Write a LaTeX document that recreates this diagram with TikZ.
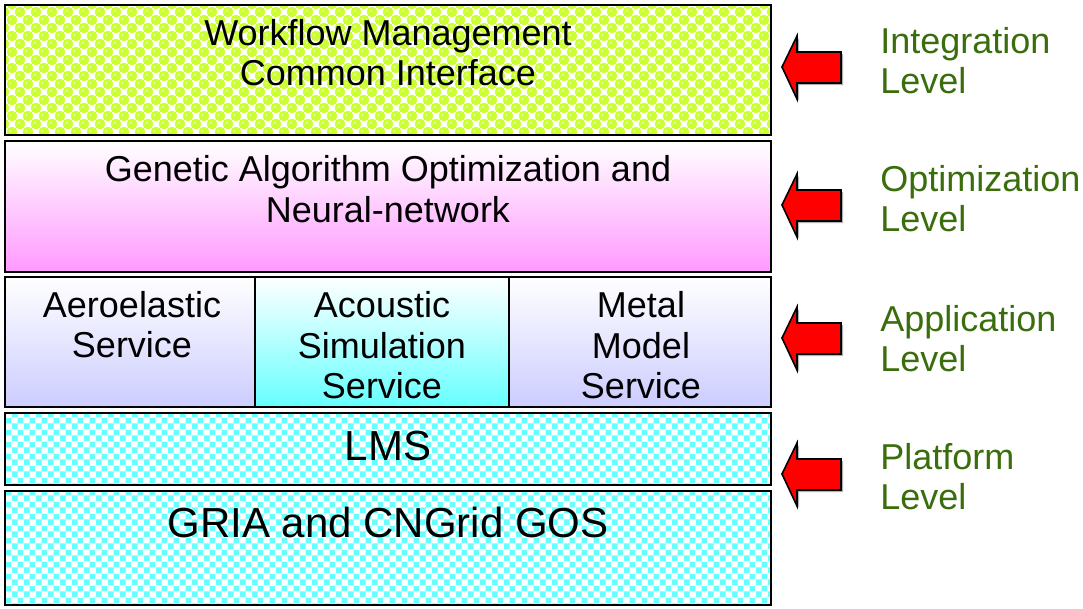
\documentclass[tikz,border=0pt]{standalone}
\usepackage{fontspec}
\setmainfont{Liberation Sans}
\usetikzlibrary{patterns}

\definecolor{bubblegreen}{HTML}{CCFF33}
\definecolor{bubblelight}{HTML}{E4FF8C}
\definecolor{checkcyan}{HTML}{66FFFF}
\definecolor{optmagenta}{HTML}{FF99FF}
\definecolor{applav}{HTML}{CCCCFF}
\definecolor{labelgreen}{HTML}{3A6E0C}
\definecolor{arrowred}{HTML}{FF0000}

% green bubbles on white
\pgfdeclarepatternformonly{bubbles}{\pgfpoint{-1.2pt}{-1.2pt}}{\pgfpoint{13.2pt}{13.2pt}}{\pgfpoint{12pt}{12pt}}{
  \pgfpathcircle{\pgfpoint{3pt}{3pt}}{4pt}
  \pgfpathcircle{\pgfpoint{9pt}{9pt}}{4pt}
  \pgfusepath{fill}}
% small highlights on the bubbles
\pgfdeclarepatternformonly{bubbleshine}{\pgfpointorigin}{\pgfpoint{12pt}{12pt}}{\pgfpoint{12pt}{12pt}}{
  \pgfpathcircle{\pgfpoint{2.2pt}{4.2pt}}{1pt}
  \pgfpathcircle{\pgfpoint{8.2pt}{10.2pt}}{1pt}
  \pgfusepath{fill}}
% cyan checkerboard
\pgfdeclarepatternformonly{cyanchecks}{\pgfpointorigin}{\pgfpoint{9pt}{9pt}}{\pgfpoint{9pt}{9pt}}{
  \pgfpathrectangle{\pgfpointorigin}{\pgfpoint{4.5pt}{4.5pt}}
  \pgfpathrectangle{\pgfpoint{4.5pt}{4.5pt}}{\pgfpoint{4.5pt}{4.5pt}}
  \pgfusepath{fill}}

\tikzset{
  layer/.style={draw=black, line width=1.5pt, inner sep=0pt, outer sep=0pt},
  greenlayer/.style={layer, preaction={fill=white},
    preaction={pattern=bubbles, pattern color=bubblegreen},
    pattern=bubbleshine, pattern color=bubblelight},
  cyanlayer/.style={layer, preaction={fill=white}, pattern=cyanchecks, pattern color=checkcyan},
  maglayer/.style={layer, top color=white, bottom color=optmagenta},
  lavcell/.style={layer, top color=white, bottom color=applav},
  cyancell/.style={layer, top color=white, bottom color=checkcyan},
  bodytext/.style={font=\fontsize{27}{30}\selectfont, anchor=base, inner sep=0pt},
  bigtext/.style={font=\fontsize{31.5}{36}\selectfont, anchor=base, inner sep=0pt},
  leveltext/.style={font=\fontsize{27}{30}\selectfont, text=labelgreen, anchor=base west, inner sep=0pt},
  levelarrow/.style={fill=arrowred, draw=black, line width=1.2pt, line join=miter},
  arrowshadow/.style={fill=black!30, draw=none},
}

\begin{document}
\begin{tikzpicture}[x=0.75pt, y=-0.75pt]
  \useasboundingbox (0,0) rectangle (1083,608);

  % layers
  \node[greenlayer, minimum width=574.5pt, minimum height=97.5pt] (integ) at (388,70) {};
  \node[maglayer, minimum width=574.5pt, minimum height=98.25pt] (optim) at (388,206.5) {};
  \node[lavcell, minimum width=187.5pt, minimum height=97.5pt] (aero) at (130,342) {};
  \node[cyancell, minimum width=190.5pt, minimum height=97.5pt] (acou) at (382,342) {};
  \node[lavcell, minimum width=196.5pt, minimum height=97.5pt] (metal) at (640,342) {};
  \node[cyanlayer, minimum width=574.5pt, minimum height=54pt] (lms) at (388,449) {};
  \node[cyanlayer, minimum width=574.5pt, minimum height=85.5pt] (gos) at (388,548) {};

  % layer texts
  \node[bodytext] (integA) at (388,45) {Workflow Management};
  \node[bodytext] (integB) at (388,85) {Common Interface};
  \node[bodytext] (optimA) at (388,181) {Genetic Algorithm Optimization and};
  \node[bodytext] (optimB) at (388,222) {Neural-network};
  \node[bodytext] (aeroA) at (132,317) {Aeroelastic};
  \node[bodytext] (aeroB) at (132,357) {Service};
  \node[bodytext] (acouA) at (382,317) {Acoustic};
  \node[bodytext] (acouB) at (382,358) {Simulation};
  \node[bodytext] (acouC) at (382,398) {Service};
  \node[bodytext] (metalA) at (641,317) {Metal};
  \node[bodytext] (metalB) at (641,358) {Model};
  \node[bodytext] (metalC) at (641,398) {Service};
  \node[bigtext] (lmsT) at (388,460) {LMS};
  \node[bigtext] (gosT) at (388,537) {GRIA and CNGrid GOS};

  % level arrows
  \coordinate (tipI) at (782,67);
  \coordinate (tipO) at (782,205);
  \coordinate (tipA) at (782,338);
  \coordinate (tipP) at (782,474);
  \foreach \t in {tipI,tipO,tipA,tipP}{
    \fill[arrowshadow] ([xshift=1.5pt,yshift=-1.5pt]\t) -- ++(15,-31) -- ++(0,16) -- ++(44,0)
      -- ++(0,31) -- ++(-44,0) -- ++(0,16) -- cycle;
    \draw[levelarrow] (\t) -- ++(15,-31) -- ++(0,16) -- ++(44,0)
      -- ++(0,31) -- ++(-44,0) -- ++(0,16) -- cycle;
  }

  % level labels
  \node[leveltext] (lvIa) at (880,53) {Integration};
  \node[leveltext] (lvIb) at (880,93) {Level};
  \node[leveltext] (lvOa) at (880,191) {Optimization};
  \node[leveltext] (lvOb) at (880,231) {Level};
  \node[leveltext] (lvAa) at (880,331) {Application};
  \node[leveltext] (lvAb) at (880,371) {Level};
  \node[leveltext] (lvPa) at (880,469) {Platform};
  \node[leveltext] (lvPb) at (880,509) {Level};
\end{tikzpicture}
\end{document}
